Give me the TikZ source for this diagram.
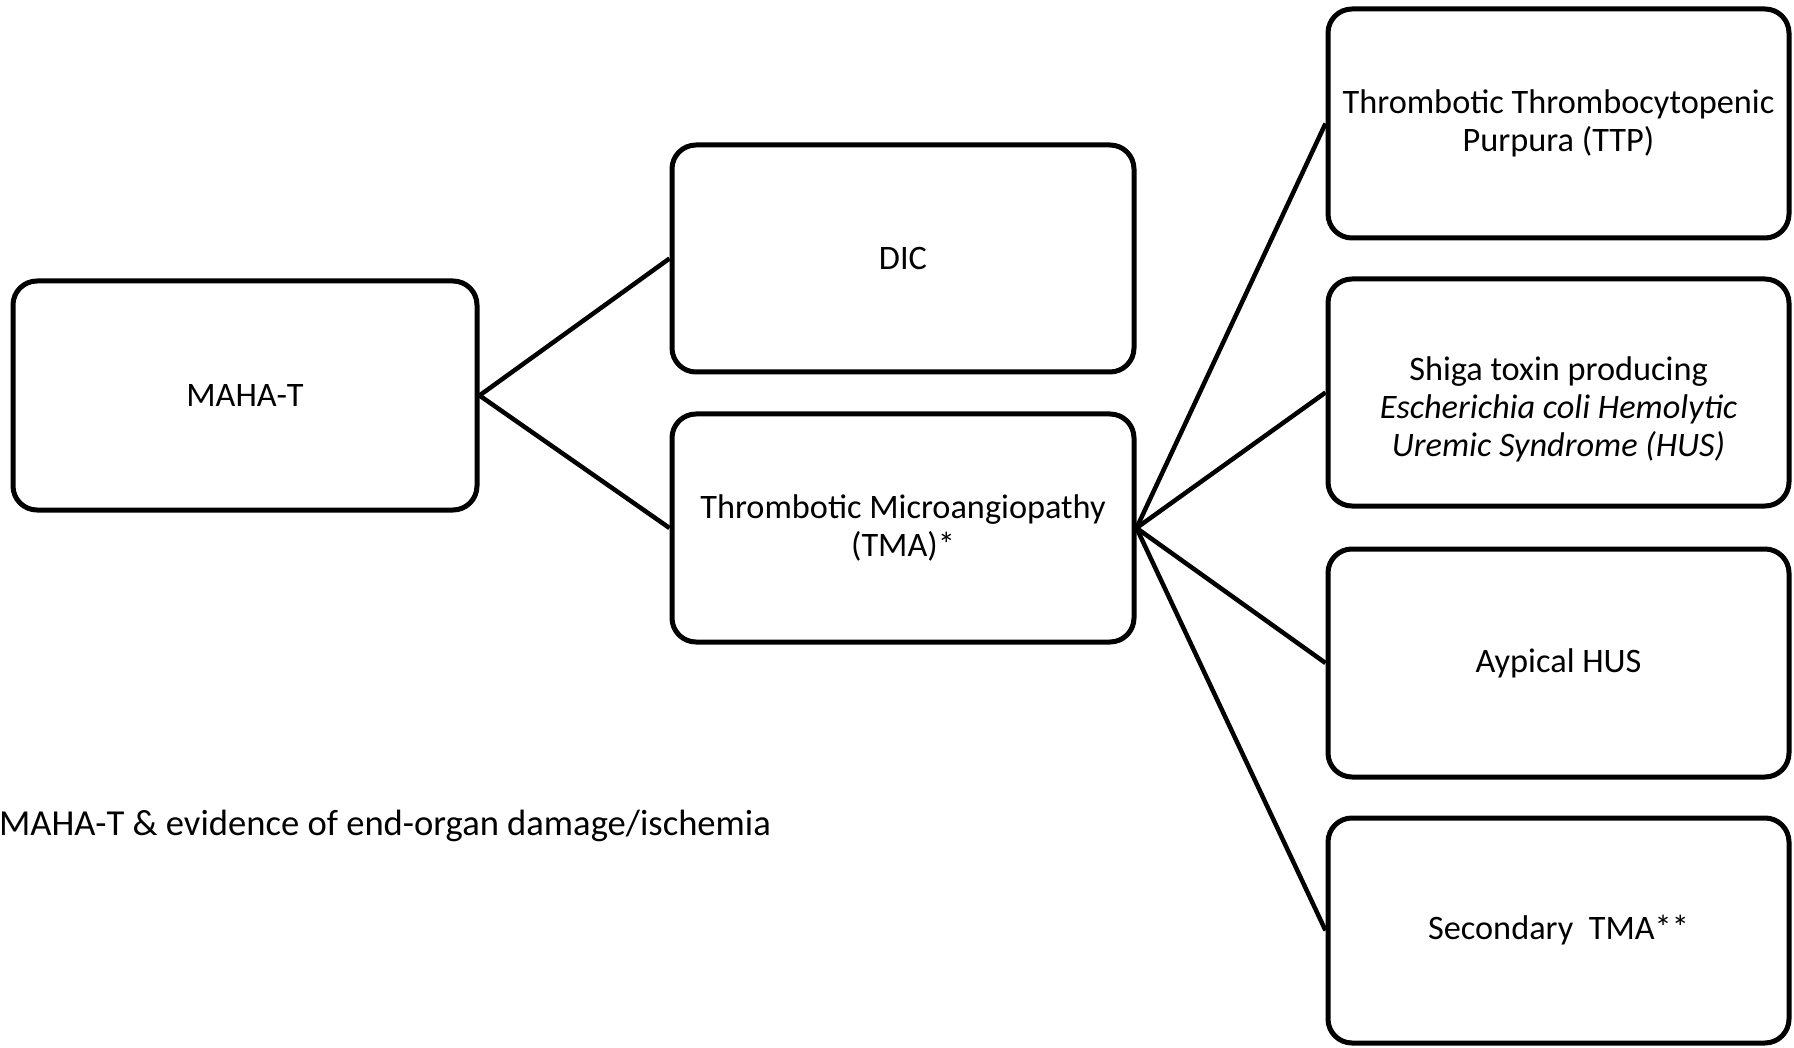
\documentclass[tikz,border=0pt]{standalone}
\usepackage{fontspec}
\setmainfont{Carlito}
\begin{document}
\begin{tikzpicture}[x=1pt,y=-1pt,
  txt/.style={font=\fontsize{34.3}{38}\selectfont, align=center, inner sep=0pt},
  box/.style={txt, draw=black, line width=5pt, rounded corners=24pt,
    minimum width=462pt, minimum height=228pt},
  conn/.style={draw=black, line width=4.5pt}]
\useasboundingbox (0,0) rectangle (1794,1048);
% left column
\node[box, minimum width=464pt, minimum height=229pt] (maha) at (245,395.5) {MAHA-T};
% middle column
\node[box, minimum height=227pt] (dic) at (903,258.5) {DIC};
\node[box] (tma) at (903,528) {Thrombotic Microangiopathy\\(TMA)*};
% right column
\node[box, minimum width=461pt, minimum height=229pt] (ttp) at (1558.5,123.5) {Thrombotic Thrombocytopenic\\Purpura (TTP)};
\node[box, minimum width=461pt, minimum height=227pt] (shiga) at (1558.5,392.5) {};
\node[txt] (shigatext) at ([yshift=-17pt]shiga.center) {Shiga toxin producing\\\textit{Escherichia coli Hemolytic}\\\textit{Uremic Syndrome (HUS)}};
\node[box, minimum width=461pt] (ahus) at (1558.5,663) {Aypical HUS};
\node[box, minimum width=461pt, minimum height=225pt] (sec) at (1558.5,930.5) {Secondary\ \ TMA**};
% footnote
\node[txt, font=\fontsize{36.6}{44}\selectfont, anchor=base west] (note) at (-1,835) {MAHA-T \& evidence of end-organ damage/ischemia};
% connectors
\draw[conn] (maha.east) -- (dic.west);
\draw[conn] (maha.east) -- (tma.west);
\draw[conn] (tma.east) -- (ttp.west);
\draw[conn] (tma.east) -- (shiga.west);
\draw[conn] (tma.east) -- (ahus.west);
\draw[conn] (tma.east) -- (sec.west);
\end{tikzpicture}
\end{document}
